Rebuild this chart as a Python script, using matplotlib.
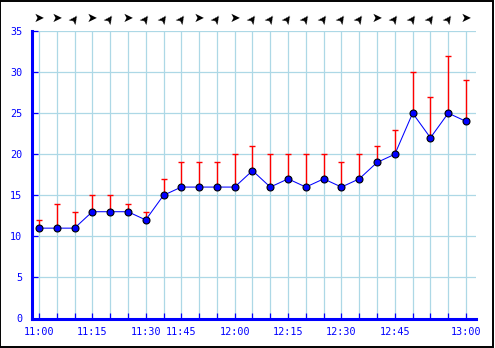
import matplotlib
matplotlib.use("Agg")
import matplotlib.pyplot as plt
from matplotlib.patches import Rectangle
from matplotlib.transforms import blended_transform_factory

values = [11, 11, 11, 13, 13, 13, 12, 15, 16, 16, 16, 16, 18, 16, 17, 16, 17, 16, 17, 19, 20, 25, 22, 25, 24]
maxima = [12, 14, 13, 15, 15, 14, 13, 17, 19, 19, 19, 20, 21, 20, 20, 20, 20, 19, 20, 21, 23, 30, 27, 32, 29]
# wind arrows: 'E' = right-pointing, 'NE' = slanted
wind = ['E', 'E', 'NE', 'E', 'NE', 'E', 'NE', 'NE', 'NE', 'E', 'NE', 'E', 'NE',
        'NE', 'NE', 'NE', 'NE', 'NE', 'NE', 'E', 'NE', 'NE', 'NE', 'NE', 'E']
tick_labels = {0: '11:00', 3: '11:15', 6: '11:30', 8: '11:45', 11: '12:00',
               14: '12:15', 17: '12:30', 20: '12:45', 24: '13:00'}
y_ticks = [0, 5, 10, 15, 20, 25, 30, 35]

BLUE = '#0000ff'
GRID = '#add8e6'

fig = plt.figure(figsize=(4.95, 3.48), dpi=100)
fig.patch.set_facecolor('white')
ax = fig.add_axes([32 / 495, 29.5 / 348, (476 - 32) / 495, (318.5 - 31) / 348])

x = list(range(len(values)))
lower = [0] * len(values)
upper = [m - v for m, v in zip(maxima, values)]

ax.errorbar(x, values, yerr=[lower, upper], fmt='none', ecolor='red',
            elinewidth=1.0, capsize=1.9, capthick=1.0, zorder=3)
ax.plot(x, values, color=BLUE, linewidth=0.75, marker='o', markersize=5,
        markerfacecolor=BLUE, markeredgecolor='black', markeredgewidth=0.8, zorder=4)

ax.set_xlim(-0.39, len(values) - 1 + 0.56)
ax.set_ylim(0, 35)

ax.set_xticks(x)
ax.set_xticklabels([tick_labels.get(i, '') for i in x])
ax.set_yticks(y_ticks)
ax.set_yticklabels([str(t) for t in y_ticks])

for t in y_ticks:
    ax.axhline(t, color=GRID, linewidth=0.9, zorder=1)
for i in x:
    ax.axvline(i, color=GRID, linewidth=0.9, zorder=1)

for s in ['top', 'right']:
    ax.spines[s].set_visible(False)
for s in ['left', 'bottom']:
    ax.spines[s].set_color(BLUE)
    ax.spines[s].set_linewidth(2.2)
    ax.spines[s].set_zorder(5)

ax.tick_params(axis='both', direction='in', colors=BLUE, length=4, width=0.9,
               labelsize=7.3, pad=6)
ax.tick_params(axis='y', pad=7)
for lab in ax.get_xticklabels() + ax.get_yticklabels():
    lab.set_family('DejaVu Sans Mono')

trans = blended_transform_factory(ax.transData, ax.transAxes)
for i, w in zip(x, wind):
    rot = 0 if w == 'E' else 55
    ax.text(i, 1.042, '\u27A4', transform=trans, ha='center', va='center',
            fontsize=9, rotation=rot, color='black',
            family='DejaVu Sans', clip_on=False)

fig.add_artist(Rectangle((0.001, 0.004), 0.994, 0.994, transform=fig.transFigure,
                         fill=False, edgecolor='black', linewidth=1.4))

fig.savefig('out.png', dpi=100)
